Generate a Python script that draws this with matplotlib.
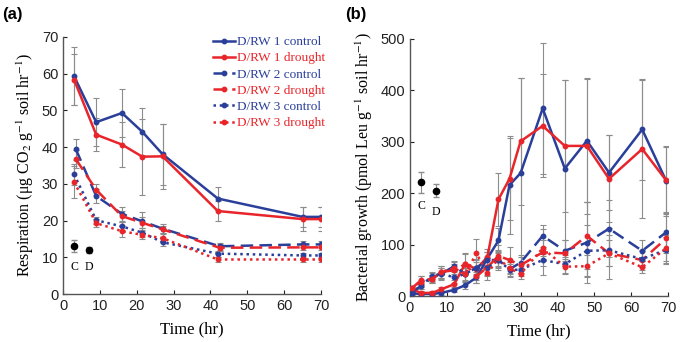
import numpy as np
import matplotlib
matplotlib.use('Agg')
import matplotlib.pyplot as plt

plt.rcParams['font.family'] = ['Liberation Sans', 'DejaVu Sans']
plt.rcParams['mathtext.fontset'] = 'stix'

BLUE = '#2a3f9a'
RED = '#e8252b'
SERIF = ['Liberation Serif', 'DejaVu Serif']

# ---- panel (a): respiration ----
t_a = [3, 9, 16, 21.5, 27, 42, 65, 70]
t_a2 = [3.5, 9, 16, 21.5, 27, 42.5, 65, 70]
resp_c1 = [59.3, 46.8, 49.3, 44.2, 38.1, 26.0, 21.0, 21.0]
resp_d1 = [58.4, 43.4, 40.7, 37.4, 37.5, 22.6, 20.4, 20.4]
resp_c2 = [39.4, 26.7, 21.8, 19.8, 17.8, 13.0, 13.5, 13.5]
resp_d2 = [36.7, 28.4, 21.2, 19.4, 17.6, 12.6, 12.7, 12.7]
resp_c3 = [32.6, 20.1, 18.4, 16.7, 14.1, 11.0, 10.5, 10.5]
resp_d3 = [30.5, 19.3, 17.1, 16.1, 15.2, 9.4, 9.4, 9.4]
err_c1 = [7.9, 6.5, 6.5, 6.4, 8.3, 3.2, 2.7, 2.7]
err_d1 = [6.9, 4.5, 6.2, 10.4, 8.8, 2.8, 3.2, 3.2]
err_c2 = [2.8, 2.0, 1.8, 2.5, 1.3, 1.0, 0.8, 0.8]
err_d2 = [2.5, 1.5, 1.5, 1.5, 1.0, 1.0, 0.8, 0.8]
err_c3 = [2.8, 1.0, 1.2, 1.2, 1.0, 0.8, 0.8, 0.8]
err_d3 = [4.3, 1.0, 1.5, 1.0, 1.2, 0.8, 0.8, 0.8]
resp_cd_x = [3, 7]
resp_cd_y = [13.0, 12.1]
resp_cd_err = [1.6, 0.8]

# ---- panel (b): bacterial growth ----
t_b = [0.5, 3, 6, 8.5, 12, 15, 18, 21, 24, 27, 30, 36, 42, 48, 54, 63, 69.5]
bg_c1 = [5, 4, 4, 6, 12, 21, 36, 73, 108, 216, 239, 365, 248, 302, 240, 324, 224]
bg_d1 = [13, 6, 6, 13, 23, 63, 52, 76, 188, 228, 301, 331, 292, 292, 228, 286, 225]
bg_c2 = [8, 19, 36, 43, 58, 43, 55, 70, 70, 52, 65, 117, 88, 104, 131, 88, 124]
bg_d2 = [15, 31, 33, 47, 50, 62, 38, 56, 78, 70, 60, 85, 83, 117, 83, 70, 112]
bg_c3 = [5, 21, 38, 44, 36, 43, 55, 55, 70, 51, 51, 70, 62, 88, 89, 72, 90]
bg_d3 = [15, 28, 33, 47, 54, 43, 83, 44, 73, 54, 43, 93, 57, 58, 83, 56, 93]
bgerr_c1 = [3, 3, 3, 4, 5, 8, 10, 12, 25, 95, 185, 128, 172, 120, 73, 98, 68]
bgerr_d1 = [5, 3, 3, 5, 8, 20, 20, 15, 52, 80, 123, 100, 128, 132, 85, 135, 65]
bgerr_c2 = [4, 6, 8, 12, 10, 15, 15, 15, 20, 15, 15, 22, 20, 78, 55, 20, 40]
bgerr_d2 = [5, 8, 8, 12, 12, 20, 12, 18, 22, 25, 15, 45, 25, 65, 50, 20, 50]
bgerr_c3 = [3, 8, 8, 10, 10, 12, 12, 15, 15, 12, 12, 12, 18, 50, 30, 15, 25]
bgerr_d3 = [5, 10, 8, 12, 12, 15, 28, 12, 15, 12, 10, 15, 15, 22, 25, 12, 25]
bg_cd_x = [3, 7]
bg_cd_y = [221, 205]
bg_cd_err = [20, 12]

labels = ['D/RW 1 control', 'D/RW 1 drought', 'D/RW 2 control',
          'D/RW 2 drought', 'D/RW 3 control', 'D/RW 3 drought']
colors = [BLUE, RED, BLUE, RED, BLUE, RED]
styles = ['-', '-', (0, (5, 2.5)), (0, (5, 2.5)), (0, (1, 1.5)), (0, (1, 1.5))]
widths = [1.8, 1.8, 1.8, 1.8, 1.8, 1.8]

fig = plt.figure(figsize=(6.8, 3.42), dpi=100)
ax1 = fig.add_axes([63/680, 1 - 294/342, 258/680, 257/342])
ax2 = fig.add_axes([410/680, 1 - 296/342, 258/680, 257/342])


def draw(ax, xs, ys, errs, cd_x, cd_y, cd_err):
    for x, y, e in zip(xs, ys, errs):
        ax.errorbar(x, y, yerr=e, fmt='none', ecolor='#8c8c8c',
                    elinewidth=0.8, capsize=2.2, capthick=0.8, zorder=1)
    lines = []
    for i in range(6):
        l, = ax.plot(xs[i], ys[i], color=colors[i], linestyle=styles[i],
                     lw=widths[i], marker='o', ms=3.2, zorder=3)
        lines.append(l)
    ax.errorbar(cd_x, cd_y, yerr=cd_err, fmt='o', color='black', ms=4.5,
                ecolor='#8c8c8c', elinewidth=0.8, capsize=2, zorder=4)
    for s in ['top', 'right']:
        ax.spines[s].set_visible(False)
    for s in ['left', 'bottom']:
        ax.spines[s].set_color('#555555')
        ax.spines[s].set_linewidth(1.0)
    ax.tick_params(direction='in', length=3, labelsize=10.5, colors='#222222')
    ax.set_xlim(0, 70)
    ax.set_xticks(range(0, 71, 10))
    return lines


lines = draw(ax1, [t_a, t_a, t_a2, t_a2, t_a, t_a],
             [resp_c1, resp_d1, resp_c2, resp_d2, resp_c3, resp_d3],
             [err_c1, err_d1, err_c2, err_d2, err_c3, err_d3],
             resp_cd_x, resp_cd_y, resp_cd_err)
ax1.set_ylim(0, 70)
ax1.set_yticks(range(0, 71, 10))
ax1.text(3, 7.4, 'C', ha='center', va='center', fontsize=8.5, family=SERIF)
ax1.text(7, 7.4, 'D', ha='center', va='center', fontsize=8.5, family=SERIF)
ax1.set_xlabel('Time (hr)', fontsize=12, family=SERIF, labelpad=6)
ax1.set_ylabel('Respiration (μg CO$_2$ g$^{-1}$ soil hr$^{-1}$)',
               fontsize=11.5, family=SERIF, labelpad=4)
leg = ax1.legend(lines, labels, loc='upper right', bbox_to_anchor=(1.05, 1.04),
                 frameon=False, prop={'family': SERIF, 'size': 9.5},
                 handlelength=1.6, handletextpad=0.15, labelspacing=0.3,
                 borderpad=0.2)
for txt, c in zip(leg.get_texts(), colors):
    txt.set_color(c)

draw(ax2, [t_b] * 6, [bg_c1, bg_d1, bg_c2, bg_d2, bg_c3, bg_d3],
     [bgerr_c1, bgerr_d1, bgerr_c2, bgerr_d2, bgerr_c3, bgerr_d3],
     bg_cd_x, bg_cd_y, bg_cd_err)
ax2.set_ylim(0, 500)
ax2.set_yticks(range(0, 501, 100))
ax2.text(3, 175, 'C', ha='center', va='center', fontsize=8.5, family=SERIF)
ax2.text(7, 163, 'D', ha='center', va='center', fontsize=8.5, family=SERIF)
ax2.set_xlabel('Time (hr)', fontsize=12, family=SERIF, labelpad=6)
ax2.set_ylabel('Bacterial growth (pmol Leu g$^{-1}$ soil hr$^{-1}$)',
               fontsize=11.5, family=SERIF, labelpad=4)

fig.text(2/680, 1 - 14/342, '(a)', fontsize=12, fontweight='bold', va='center')
fig.text(345/680, 1 - 14/342, '(b)', fontsize=12, fontweight='bold', va='center')

fig.savefig('out.png', dpi=100)
